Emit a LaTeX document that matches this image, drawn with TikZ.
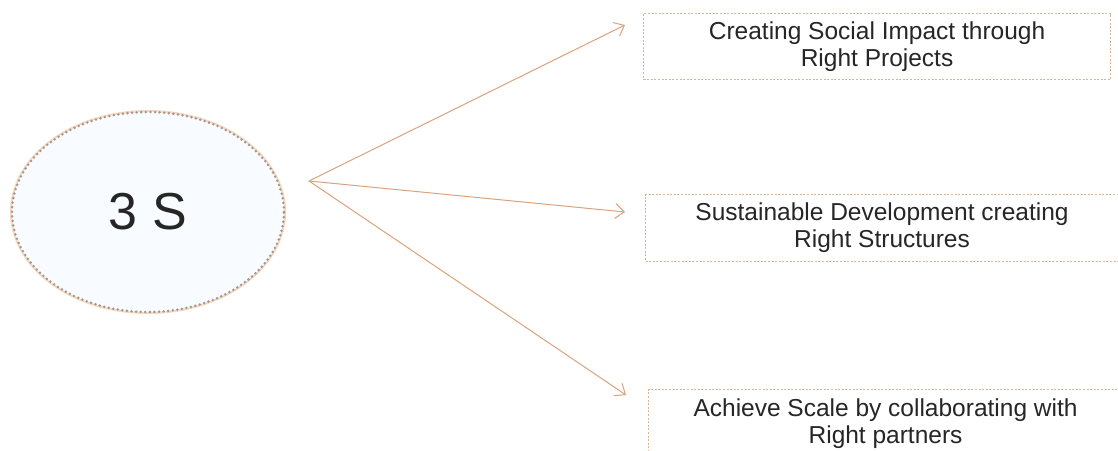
\documentclass[tikz,border=0pt]{standalone}
\usepackage{fontspec}
\setmainfont{Liberation Sans}
\usetikzlibrary{arrows.meta,shapes.geometric}
\definecolor{ellborder}{HTML}{A89688}
\definecolor{ellhalo}{HTML}{F3D9C4}
\definecolor{ellfill}{HTML}{F8FBFF}
\definecolor{boxborder}{HTML}{D9B398}
\definecolor{arrowcol}{HTML}{DBA27E}
\definecolor{txt}{HTML}{262626}
\tikzset{
  itembox/.style={draw=boxborder, line width=1.1pt, dash pattern=on 2pt off 1.6pt,
    anchor=north west, inner sep=0pt, align=center, text=txt,
    font=\fontsize{24.5}{27}\selectfont},
  conn/.style={draw=arrowcol, line width=1pt, -{Straight Barb[length=9pt,width=15pt,line width=1pt]}},
}
\begin{document}
\begin{tikzpicture}[x=1pt,y=-1pt]
\useasboundingbox (0,0) rectangle (1118,450);
\fill[white] (0,0) rectangle (1118,450);
\node[ellipse, draw=ellhalo, line width=4pt, minimum width=272pt, minimum height=200pt] (halo) at (148,212) {};
\node[ellipse, draw=ellborder, fill=ellfill, line width=2.8pt, line cap=round,
  dash pattern=on 0pt off 4.6pt, minimum width=272pt, minimum height=200pt,
  text=txt, font=\fontsize{52}{60}\selectfont] (c) at (148,212) {3 S};
\node[itembox, minimum width=467pt, minimum height=66pt] (b1) at (643,13)
  {Creating Social Impact through\\Right Projects};
\node[itembox, minimum width=473pt, minimum height=67pt] (b2) at (645,194)
  {Sustainable Development creating\\Right Structures};
\node[itembox, minimum width=474pt, minimum height=68pt] (b3) at (648,389)
  {Achieve Scale by collaborating with\\Right partners};
\coordinate (apex) at (309,181);
\coordinate (t1) at (625,25);
\coordinate (t2) at (625,212);
\coordinate (t3) at (626,395);
\draw[conn] (apex) -- (t1);
\draw[conn] (apex) -- (t2);
\draw[conn] (apex) -- (t3);
\end{tikzpicture}
\end{document}
